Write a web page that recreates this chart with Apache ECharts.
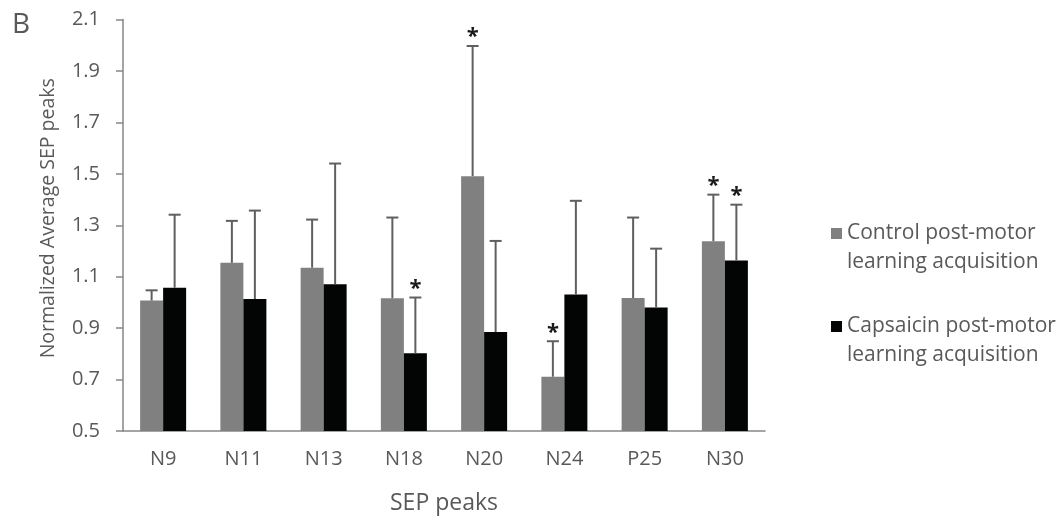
<!DOCTYPE html>
<html>
<head>
<meta charset="utf-8">
<script src="https://cdn.jsdelivr.net/npm/echarts@6/dist/echarts.min.js"></script>
<style>html,body{margin:0;padding:0;background:#fff;}#c{width:1062px;height:520px;}</style>
</head>
<body>
<div id="c"></div>
<script>
const categories = ['N9','N11','N13','N18','N20','N24','P25','N30'];
const controlMean = [1.007,1.154,1.135,1.016,1.491,0.711,1.017,1.238];
const controlErr  = [0.040,0.163,0.187,0.314,0.506,0.138,0.313,0.181];
const controlSig  = [0,0,0,0,1,1,0,1];
const capsMean = [1.057,1.013,1.071,0.802,0.885,1.031,0.980,1.163];
const capsErr  = [0.284,0.344,0.469,0.217,0.354,0.364,0.229,0.217];
const capsSig  = [0,0,0,1,0,0,0,1];
const seriesNames = ['Control post-motor\nlearning acquisition','Capsaicin post-motor\nlearning acquisition'];

const FONT = '"Open Sans", "Noto Sans", sans-serif';
const TXT = '#595959';
const BAR_W = 23;

function errData(mean, err, sig){
  return mean.map((m,i)=>[i, m, m+err[i], sig[i]]);
}
function makeRender(side){
  return function(params, api){
    const i = api.value(0);
    const p0 = api.coord([i, api.value(1)]);
    const p1 = api.coord([i, api.value(2)]);
    const x = p0[0] + side*BAR_W/2;
    const children = [
      {type:'line', shape:{x1:x,y1:p0[1],x2:x,y2:p1[1]}, style:{stroke:'#5f5f5f',lineWidth:2}},
      {type:'line', shape:{x1:x-6,y1:p1[1],x2:x+6,y2:p1[1]}, style:{stroke:'#5f5f5f',lineWidth:2}}
    ];
    if (api.value(3)) {
      children.push({type:'text', style:{text:'*', x:x, y:p1[1]-9, align:'center', verticalAlign:'middle',
        fill:'#1a1a1a', font:'bold 22px ' + FONT}});
    }
    return {type:'group', children};
  };
}

const chart = echarts.init(document.getElementById('c'), null, {renderer:'canvas'});
chart.setOption({
  animation:false,
  backgroundColor:'#fff',
  title:{text:'B', left:7, top:6, textStyle:{fontFamily:FONT, fontSize:28, fontWeight:'normal', color:TXT}},
  grid:{left:123, right:297, top:19.5, bottom:86.5},
  legend:{
    orient:'vertical', left:826, top:214, itemWidth:11, itemHeight:40, itemGap:35,
    data:seriesNames, icon:'path://M0,0h11v11h-11zM0,40h0',
    textStyle:{fontFamily:FONT, fontSize:21, color:TXT, lineHeight:29}
  },
  xAxis:{
    type:'category', data:categories,
    name:'SEP peaks', nameLocation:'middle', nameGap:61,
    nameTextStyle:{fontFamily:FONT, fontSize:23, color:TXT},
    axisLine:{lineStyle:{color:'#868686', width:1.5}},
    axisTick:{show:false},
    axisLabel:{fontFamily:FONT, fontSize:20, color:TXT, margin:18}
  },
  yAxis:{
    type:'value', min:0.5, max:2.1, interval:0.2,
    name:'Normalized Average SEP peaks', nameLocation:'middle', nameGap:65, nameRotate:90,
    nameTextStyle:{fontFamily:FONT, fontSize:19.5, color:TXT, padding:[0,0,0,14]},
    axisLine:{show:true, lineStyle:{color:'#868686', width:1.5}},
    axisTick:{show:true, length:7, lineStyle:{color:'#868686', width:1.5}},
    splitLine:{show:false},
    axisLabel:{fontFamily:FONT, fontSize:20, color:TXT, margin:23, formatter:v=>v.toFixed(1)}
  },
  series:[
    {name:seriesNames[0], type:'bar', data:controlMean, barWidth:BAR_W, barGap:'0%', itemStyle:{color:'#808080'}},
    {name:seriesNames[1], type:'bar', data:capsMean, barWidth:BAR_W, barGap:'0%', itemStyle:{color:'#030505'}},
    {type:'custom', data:errData(controlMean, controlErr, controlSig), renderItem:makeRender(-1), z:5, encode:{x:0,y:[1,2]}},
    {type:'custom', data:errData(capsMean, capsErr, capsSig), renderItem:makeRender(1), z:5, encode:{x:0,y:[1,2]}}
  ]
});
</script>
</body>
</html>
